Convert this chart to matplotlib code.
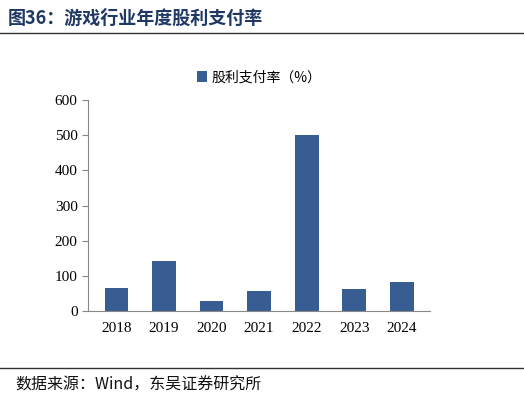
import matplotlib
matplotlib.use("Agg")
import matplotlib.pyplot as plt
from matplotlib.lines import Line2D

years = ["2018", "2019", "2020", "2021", "2022", "2023", "2024"]
payout = [65, 142, 28, 58, 500, 62, 82]
yticks = [0, 100, 200, 300, 400, 500, 600]

cjk = ['Noto Sans CJK SC', 'DejaVu Sans']
serif = ['Liberation Serif', 'Noto Sans CJK SC']
color = "#385D92"

fig = plt.figure(figsize=(5.24, 4.01), dpi=100)
ax = fig.add_axes([0.168, 0.224, 0.653, 0.527])
ax.bar(years, payout, width=0.5, color=color, label="股利支付率（%）")
ax.set_ylim(0, 600)
ax.set_yticks(yticks)
ax.set_xlim(-0.6, 6.6)
for s in ["top", "right"]:
    ax.spines[s].set_visible(False)
for s in ["left", "bottom"]:
    ax.spines[s].set_color("#888888")
ax.tick_params(axis="x", length=0, pad=8)
ax.tick_params(axis="y", direction="out", length=4, color="#888888")
for t in ax.get_xticklabels() + ax.get_yticklabels():
    t.set_family(serif); t.set_fontsize(11)
leg = ax.legend(loc="upper center", bbox_to_anchor=(0.5, 1.2), frameon=False,
                prop={'family': cjk, 'size': 10}, handlelength=0.7, handleheight=0.8,
                handletextpad=0.3)

fig.text(0.015, 0.955, "图36：游戏行业年度股利支付率", family=cjk, fontsize=13,
         fontweight="bold", color="#1F3864", va="center")
fig.add_artist(Line2D([0.0, 1.0], [0.918, 0.918], color="#333333", lw=1.0))
fig.add_artist(Line2D([0.0, 1.0], [0.082, 0.082], color="#333333", lw=1.0))
fig.text(0.03, 0.04, "数据来源：Wind，东吴证券研究所", family=cjk, fontsize=11.5,
         va="center", color="#111111")
fig.savefig("out.png", dpi=100)
